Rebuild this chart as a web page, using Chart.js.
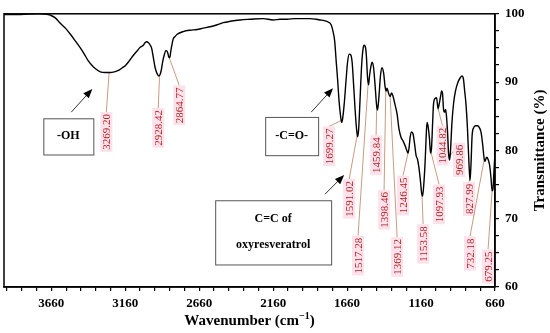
<!DOCTYPE html>
<html>
<head>
<meta charset="utf-8">
<script src="https://cdn.jsdelivr.net/npm/chart.js@4.4.1/dist/chart.umd.min.js"></script>
<style>
  html, body { margin: 0; padding: 0; background: #fff; }
</style>
</head>
<body>
<canvas id="ftirChart" width="550" height="333"></canvas>
<script>
// Spectrum: wavenumber (cm-1) and transmittance (%)
const waveNumbers = [
  3978, 3869, 3748, 3680, 3667, 3633, 3599, 3565, 3531, 3497,
  3464, 3437, 3410, 3383, 3363, 3329, 3295, 3261, 3234, 3207,
  3180, 3160, 3133, 3106, 3079, 3059, 3038, 3025, 3015, 3005,
  2991, 2981, 2971, 2958, 2944, 2934, 2927, 2917, 2907, 2896,
  2886, 2880, 2873, 2866, 2859, 2853, 2846, 2836, 2822, 2809,
  2768, 2721, 2674, 2633, 2586, 2538, 2498, 2451, 2383, 2315,
  2228, 2160, 2113, 2065, 2011, 1957, 1910, 1869, 1842, 1815,
  1788, 1768, 1755, 1744, 1734, 1724, 1714, 1704, 1697, 1690,
  1680, 1667, 1657, 1646, 1636, 1626, 1616, 1606, 1596, 1589,
  1582, 1572, 1562, 1552, 1545, 1535, 1529, 1522, 1515, 1508,
  1498, 1491, 1481, 1471, 1461, 1454, 1444, 1434, 1424, 1413,
  1403, 1396, 1390, 1380, 1370, 1359, 1349, 1336, 1322, 1309,
  1295, 1282, 1268, 1258, 1248, 1241, 1234, 1224, 1214, 1204,
  1194, 1184, 1174, 1163, 1157, 1150, 1143, 1133, 1126, 1120,
  1113, 1103, 1096, 1089, 1082, 1076, 1065, 1055, 1045, 1038,
  1028, 1021, 1015, 1008, 1001, 994, 988, 981, 974, 967,
  961, 951, 940, 927, 910, 896, 883, 873, 866, 856,
  846, 836, 829, 822, 815, 805, 792, 778, 765, 755,
  744, 734, 728, 717, 707, 697, 687, 680, 674, 667,
  660
];
const transmittance = [
  99.9, 99.9, 100, 99.9, 99.8, 99.4, 98.6, 97.9, 97.0, 96.0,
  95.0, 94.1, 93.1, 92.4, 92.0, 91.5, 91.4, 91.4, 91.5, 91.7,
  92.1, 92.4, 93.1, 93.9, 94.6, 95.1, 95.4, 95.8, 95.9, 95.8,
  95.4, 94.9, 93.7, 92.1, 91.2, 90.9, 91.0, 91.7, 93.0, 94.0,
  94.6, 94.6, 94.3, 93.7, 93.6, 94.4, 95.3, 96.3, 96.7, 97.0,
  97.4, 97.6, 97.7, 97.9, 98.1, 98.4, 98.7, 98.9, 99.1, 99.2,
  99.3, 99.1, 99.2, 99.2, 99.3, 99.3, 99.3, 99.2, 99.1, 99.0,
  98.8, 98.4, 97.4, 96.0, 93.1, 90.3, 87.1, 85.0, 84.1, 84.7,
  86.7, 90.3, 92.9, 94.1, 94.0, 92.9, 89.6, 86.0, 83.1, 82.0,
  83.1, 87.7, 92.4, 94.9, 95.4, 95.0, 93.6, 90.7, 89.6, 91.0,
  92.4, 92.9, 92.1, 89.6, 86.7, 85.9, 88.1, 91.0, 92.1, 91.3,
  89.3, 88.7, 89.1, 88.4, 87.9, 88.4, 87.9, 86.7, 85.3, 83.1,
  81.9, 81.4, 80.7, 80.1, 79.6, 80.4, 81.9, 82.7, 82.4, 81.0,
  79.3, 78.7, 77.4, 75.3, 73.9, 73.3, 74.6, 78.1, 81.7, 84.1,
  83.6, 81.7, 79.6, 80.4, 83.9, 86.7, 87.6, 87.7, 86.1, 86.7,
  87.9, 88.7, 88.4, 86.0, 85.6, 86.0, 85.0, 82.7, 79.6, 78.6,
  79.9, 84.1, 86.9, 88.7, 90.0, 90.6, 90.9, 90.4, 88.9, 86.7,
  83.1, 78.1, 75.6, 78.1, 82.1, 83.3, 83.6, 83.6, 83.3, 82.7,
  81.0, 78.9, 78.4, 79.0, 78.7, 77.9, 76.0, 74.1, 74.3, 77.0,
  79.6
];

// Labelled bands
const peakValues = [3269.20, 2928.42, 2864.77, 1699.27, 1591.02, 1517.28, 1459.84, 1398.46, 1369.12,
                    1246.45, 1153.58, 1097.93, 1044.82, 969.86, 827.99, 732.18, 679.25];
const peakTexts = peakValues.map(v => v.toFixed(2));

// Functional group boxes
const groupTexts = [['-OH'], ['-C=O-'], ['C=C of', 'oxyresveratrol']];

// Tick labels
const xTickLabels = [3660, 3160, 2660, 2160, 1660, 1160, 660];
const yTickLabels = [100, 90, 80, 70, 60];

const serif = '"Liberation Serif", "Times New Roman", serif';

// transmittance on the traced curve at a given wavenumber
function curveAt(w) {
  for (let i = 0; i < waveNumbers.length - 1; i++) {
    const a = waveNumbers[i], b = waveNumbers[i + 1];
    if (w <= a && w >= b) {
      const t = (a - w) / (a - b);
      return transmittance[i] + t * (transmittance[i + 1] - transmittance[i]);
    }
  }
  return transmittance[transmittance.length - 1];
}

function arrow(ctx, x1, y1, x2, y2) {
  const ang = Math.atan2(y2 - y1, x2 - x1);
  const head = 10;
  ctx.beginPath();
  ctx.moveTo(x1, y1);
  ctx.lineTo(x2 - head * 0.7 * Math.cos(ang), y2 - head * 0.7 * Math.sin(ang));
  ctx.stroke();
  ctx.beginPath();
  ctx.moveTo(x2, y2);
  ctx.lineTo(x2 - head * Math.cos(ang - 0.38), y2 - head * Math.sin(ang - 0.38));
  ctx.lineTo(x2 - head * Math.cos(ang + 0.38), y2 - head * Math.sin(ang + 0.38));
  ctx.closePath();
  ctx.fill();
}

const annotate = {
  id: 'annotate',
  // peak labels + leader lines go under the curve
  beforeDatasetsDraw(chart, args, opts) {
    const { ctx, scales: { x, y } } = chart;
    ctx.save();
    ctx.font = '11px ' + serif;
    peakValues.forEach((w, i) => {
      const [lw, lt] = opts.peakPos[i];
      const px = x.getPixelForValue(lw), py = y.getPixelForValue(lt);
      const tw = ctx.measureText(peakTexts[i]).width;
      const top = py - tw / 2 - 2;
      ctx.strokeStyle = '#c99a80';
      ctx.lineWidth = 1;
      ctx.beginPath();
      ctx.moveTo(x.getPixelForValue(w), y.getPixelForValue(curveAt(w)));
      ctx.lineTo(px, top);
      ctx.stroke();
      ctx.fillStyle = '#fde2ec';
      ctx.fillRect(px - 6, top, 12, tw + 4);
      ctx.save();
      ctx.translate(px, py);
      ctx.rotate(-Math.PI / 2);
      ctx.fillStyle = '#b21d1d';
      ctx.textAlign = 'center';
      ctx.textBaseline = 'middle';
      ctx.fillText(peakTexts[i], 0, 1);
      ctx.restore();
    });
    ctx.restore();
  },
  afterDraw(chart, args, opts) {
    const { ctx, chartArea: a, scales: { x, y } } = chart;
    ctx.save();
    // frame round the plot
    ctx.strokeStyle = '#000';
    ctx.lineWidth = 1.5;
    ctx.strokeRect(a.left, a.top, a.right - a.left, a.bottom - a.top);

    // group boxes and arrows
    opts.boxes.forEach((b, i) => {
      const x1 = x.getPixelForValue(b.from[0]), y1 = y.getPixelForValue(b.from[1]);
      const x2 = x.getPixelForValue(b.to[0]), y2 = y.getPixelForValue(b.to[1]);
      ctx.fillStyle = '#fff';
      ctx.fillRect(x1, y1, x2 - x1, y2 - y1);
      ctx.strokeStyle = '#555';
      ctx.lineWidth = 1;
      ctx.strokeRect(x1 + 0.5, y1 + 0.5, x2 - x1, y2 - y1);
      ctx.fillStyle = '#000';
      ctx.font = 'bold 12px ' + serif;
      ctx.textAlign = 'center';
      ctx.textBaseline = 'middle';
      const lines = groupTexts[i];
      const cx = (x1 + x2) / 2, cy = (y1 + y2) / 2;
      lines.forEach((t, k) => ctx.fillText(t, cx, cy + (k - (lines.length - 1) / 2) * 26));
      ctx.strokeStyle = '#333';
      ctx.fillStyle = '#000';
      ctx.lineWidth = 1;
      arrow(ctx, x.getPixelForValue(b.arrow[0]), y.getPixelForValue(b.arrow[1]),
                 x.getPixelForValue(b.arrow[2]), y.getPixelForValue(b.arrow[3]));
    });

    // axis titles
    ctx.fillStyle = '#000';
    ctx.textBaseline = 'middle';
    const main = 'Wavenumber (cm';
    ctx.font = 'bold 10px ' + serif;
    const supW = ctx.measureText('\u22121').width;
    ctx.font = 'bold 15px ' + serif;
    const mainW = ctx.measureText(main).width, closeW = ctx.measureText(')').width;
    const sx = (a.left + a.right) / 2 - (mainW + supW + closeW) / 2;
    const ty = 321;
    ctx.textAlign = 'left';
    ctx.fillText(main, sx, ty);
    ctx.font = 'bold 10px ' + serif;
    ctx.fillText('\u22121', sx + mainW, ty - 5);
    ctx.font = 'bold 15px ' + serif;
    ctx.fillText(')', sx + mainW + supW, ty);

    ctx.save();
    ctx.translate(540, (a.top + a.bottom) / 2);
    ctx.rotate(-Math.PI / 2);
    ctx.textAlign = 'center';
    ctx.fillText('Transmittance (%)', 0, 0);
    ctx.restore();
    ctx.restore();
  }
};

const tickFont = { family: serif, size: 13, weight: 'bold' };

const ctx = document.getElementById('ftirChart').getContext('2d');
const chart = new Chart(ctx, {
  type: 'line',
  data: {
    datasets: [{
      data: waveNumbers.map((w, i) => ({ x: w, y: transmittance[i] })),
      borderColor: '#000',
      borderWidth: 1.4,
      pointRadius: 0,
      fill: false,
      cubicInterpolationMode: 'monotone'
    }]
  },
  options: {
    responsive: false,
    animation: false,
    devicePixelRatio: 1,
    layout: { padding: { left: 4, top: 7, right: 0, bottom: 0 } },
    plugins: {
      legend: { display: false },
      tooltip: { enabled: false },
      annotate: {
        // label centres in data units (wavenumber, %)
        peakPos: [
          [3288, 82.7], [2937, 83.3], [2795, 86.6], [1782, 80.6], [1646, 72.9], [1586, 64.6],
          [1464, 79.3], [1410, 71.3], [1322, 64.4], [1282, 73.4], [1146, 66.3], [1038, 72.1],
          [1015, 80.7], [903, 78.6], [836, 72.9], [829, 64.9], [707, 63.0]
        ],
        boxes: [
          { from: [3714, 84.7], to: [3376, 79.4], arrow: [3525, 85.6, 3383, 89.0] },
          { from: [2214, 84.9], to: [1856, 79.3], arrow: [1903, 85.6, 1755, 89.1] },
          { from: [2552, 72.7], to: [1768, 63.3], arrow: [1809, 73.6, 1680, 76.4] }
        ]
      }
    },
    scales: {
      x: {
        type: 'linear',
        reverse: true,
        min: 660,
        max: 3980,
        afterBuildTicks: s => {
          s.ticks = [];
          for (let v = 660; v <= 3960; v += 100) s.ticks.push({ value: v });
        },
        ticks: {
          autoSkip: false, maxRotation: 0, padding: 5, color: '#000', font: tickFont,
          callback: v => xTickLabels.includes(v) ? String(v) : ''
        },
        grid: { drawOnChartArea: false, tickLength: 4, color: '#000', lineWidth: 1.2 },
        border: { color: '#000', width: 1.5 },
        afterFit: s => { s.height = 46; }
      },
      y: {
        position: 'right',
        min: 60,
        max: 100,
        afterBuildTicks: s => {
          s.ticks = [];
          for (let v = 60; v <= 100; v += 2.5) s.ticks.push({ value: v });
        },
        ticks: {
          autoSkip: false, padding: 6, color: '#000', font: tickFont,
          callback: v => yTickLabels.includes(v) ? String(v) : ''
        },
        grid: { drawOnChartArea: false, tickLength: 4, color: '#000', lineWidth: 1.2 },
        border: { color: '#000', width: 1.5 },
        afterFit: s => { s.height = undefined; s.width = 55; }
      }
    }
  },
  plugins: [annotate]
});
</script>
</body>
</html>
